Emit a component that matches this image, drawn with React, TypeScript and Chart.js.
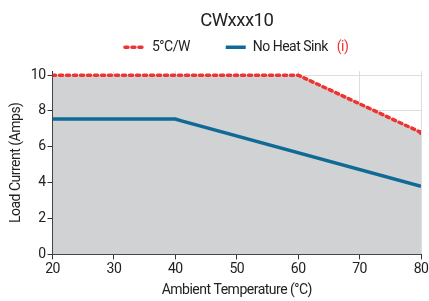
import React, { useEffect, useRef } from "react";
import { Chart, registerables } from "chart.js";

Chart.register(...registerables);

const titleText = "CWxxx10";
const seriesNames = ["5°C/W", "No Heat Sink"];
const heatSinkX = [20, 60, 80];
const heatSinkY = [10, 10, 6.8];
const noSinkX = [20, 40, 41, 80];
const noSinkY = [7.55, 7.55, 7.45, 3.8];
const xTicks = [20, 30, 40, 50, 60, 70, 80];
const yTicks = [0, 2, 4, 6, 8, 10];
const xTitle = "Ambient Temperature (°C)";
const yTitle = "Load Current (Amps)";
const infoText = "(i)";

const FONT = "Roboto, sans-serif";
const RED = "#ee3333";
const BLUE = "#0f6a96";
const FILL = "#d1d2d4";
const SPACING = "-0.5px";
const LEGEND_EXTRA = 7;

const narrowPlugin = {
  id: "narrowText",
  beforeUpdate(chart: any) {
    chart.ctx.letterSpacing = SPACING;
  },
  beforeLayout(chart: any) {
    const lg = chart.legend;
    if (lg && !lg.__extraWrapped) {
      const orig = lg.fit.bind(lg);
      lg.fit = function () {
        orig();
        this.height += LEGEND_EXTRA;
      };
      lg.__extraWrapped = true;
    }
  },
  beforeDraw(chart: any) {
    chart.ctx.letterSpacing = SPACING;
  },
};

const infoPlugin = {
  id: "infoMark",
  afterDraw(chart: any) {
    const legend = chart.legend;
    if (!legend || !legend.legendHitBoxes || legend.legendHitBoxes.length < 2) return;
    const box = legend.legendHitBoxes[1];
    const ctx = chart.ctx;
    ctx.save();
    ctx.letterSpacing = SPACING;
    ctx.font = `14px ${FONT}`;
    const w = ctx.measureText(seriesNames[1]).width;
    ctx.fillStyle = RED;
    ctx.textAlign = "left";
    ctx.textBaseline = "middle";
    ctx.fillText(infoText, box.left + 20 + 7 + w + 9, box.top + box.height / 2);
    ctx.restore();
  },
};

export default function App() {
  const ref = useRef<HTMLCanvasElement>(null);
  useEffect(() => {
    if (!ref.current) return;
    const chart = new Chart(ref.current, {
      type: "line",
      data: {
        datasets: [
          {
            label: seriesNames[0],
            data: heatSinkX.map((x, i) => ({ x, y: heatSinkY[i] })),
            borderColor: RED,
            backgroundColor: FILL,
            borderWidth: 3.5,
            borderDash: [3, 4],
            borderCapStyle: "round",
            fill: "origin",
            pointRadius: [0, 0, 2.5],
            pointBackgroundColor: RED,
            pointBorderWidth: 0,
            tension: 0,
            order: 2,
          },
          {
            label: seriesNames[1],
            data: noSinkX.map((x, i) => ({ x, y: noSinkY[i] })),
            borderColor: BLUE,
            backgroundColor: BLUE,
            borderWidth: 3.5,
            fill: false,
            pointRadius: 0,
            tension: 0,
            order: 1,
          },
        ],
      },
      options: {
        animation: false,
        responsive: false,
        layout: { padding: { left: 8, right: 8, top: 4, bottom: 2 } },
        plugins: {
          title: {
            display: true,
            text: titleText,
            fullSize: false,
            font: { family: FONT, size: 18.5, weight: "normal" },
            color: "#222",
            padding: { top: 6.5, bottom: -16.5 },
          },
          legend: {
            fullSize: false,
            labels: {
              usePointStyle: true,
              pointStyle: "line",
              pointStyleWidth: 20,
              font: { family: FONT, size: 14 },
              color: "#222",
              padding: 24,
              sort: (a: any, b: any) => a.datasetIndex - b.datasetIndex,
              generateLabels(chart: any) {
                const items = Chart.defaults.plugins.legend.labels.generateLabels(chart);
                items.forEach((it: any) => {
                  const first = it.datasetIndex === 0;
                  it.lineWidth = 3.5;
                  it.strokeStyle = first ? RED : BLUE;
                  it.fillStyle = first ? RED : BLUE;
                  it.lineDash = first ? [3, 4] : [];
                  it.lineCap = first ? "round" : "butt";
                  it.text = it.text + (first ? "    " : "       ");
                });
                return items;
              },
            },
          },
          tooltip: { enabled: false },
        },
        scales: {
          x: {
            type: "linear",
            min: 20,
            max: 80,
            afterBuildTicks(axis: any) {
              axis.ticks = xTicks.map((v) => ({ value: v }));
            },
            afterFit(scale: any) {
              scale.paddingRight = 0;
            },
            grid: { color: "#dddddd", tickColor: "#333", tickLength: 5, drawOnChartArea: true },
            border: { color: "#333", width: 1 },
            ticks: { font: { family: FONT, size: 14 }, color: "#222", padding: 2 },
            title: {
              display: true,
              text: xTitle,
              font: { family: FONT, size: 14 },
              color: "#222",
              padding: { top: 2, bottom: 0 },
            },
          },
          y: {
            type: "linear",
            min: 0,
            max: 10.22,
            afterBuildTicks(axis: any) {
              axis.ticks = yTicks.map((v) => ({ value: v }));
            },
            grid: { color: "#dddddd", tickColor: "#333", tickLength: 5 },
            border: { color: "#333", width: 1 },
            ticks: { font: { family: FONT, size: 14 }, color: "#222", padding: 2 },
            title: {
              display: true,
              text: yTitle,
              font: { family: FONT, size: 14 },
              color: "#222",
              padding: { top: 0, bottom: 4 },
            },
          },
        },
      },
      plugins: [narrowPlugin, infoPlugin],
    } as any);
    return () => chart.destroy();
  }, []);
  return (
    <div style={{ width: 429, height: 301, position: "absolute", left: 0, top: 0 }}>
      <canvas ref={ref} width={429} height={301} style={{ display: "block" }} />
    </div>
  );
}
